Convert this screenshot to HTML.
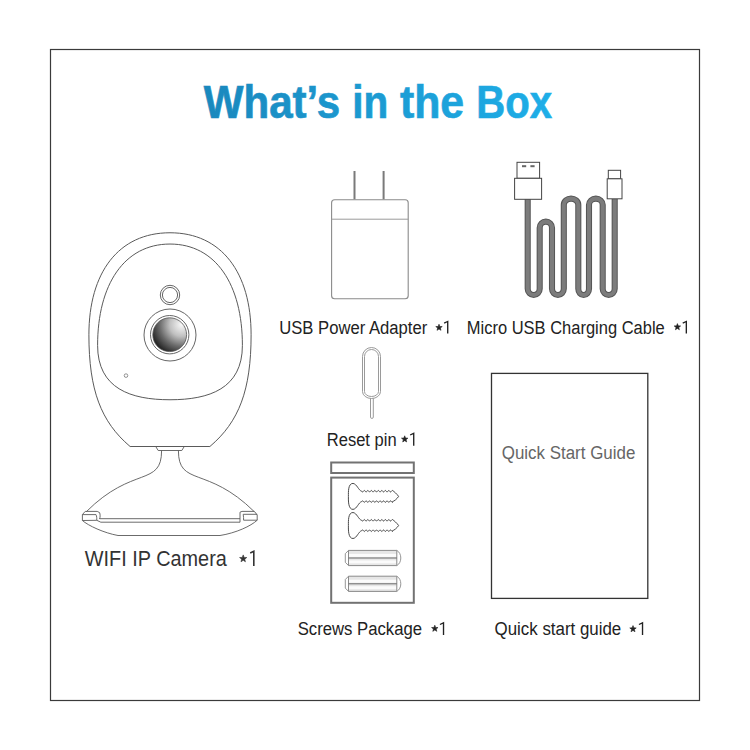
<!DOCTYPE html>
<html><head><meta charset="utf-8">
<style>
html,body{margin:0;padding:0;background:#fff;}
body{width:750px;height:750px;position:relative;overflow:hidden;font-family:"Liberation Sans",sans-serif;}
svg{position:absolute;left:0;top:0;}
</style></head><body>
<svg width="750" height="750" viewBox="0 0 750 750" font-family="Liberation Sans">
<defs>
<linearGradient id="tg" x1="204" y1="0" x2="552" y2="0" gradientUnits="userSpaceOnUse">
<stop offset="0" stop-color="#1a88bd"/><stop offset="1" stop-color="#1eaee8"/>
</linearGradient>
<radialGradient id="lens" cx="0.85" cy="0.2" r="1.0" fx="0.85" fy="0.2">
<stop offset="0" stop-color="#f8f8f8"/><stop offset="0.35" stop-color="#c0c0c0"/><stop offset="0.65" stop-color="#6a6a6a"/><stop offset="1" stop-color="#141414"/>
</radialGradient>
</defs>
<rect x="50.5" y="49.5" width="649" height="651" fill="none" stroke="#3a3a3a" stroke-width="1.2"/>
<path d="M130.1,446.5 C100.97,421.79 88.9,390.07 88.9,334.8 C88.9,272.51 118.57,232.76 170,232.76 C221.43,232.76 251.1,272.51 251.1,334.8 C251.1,390.07 239.03,421.79 209.9,446.5 Z" fill="none" stroke="#5a5a5a" stroke-width="1"/>
<path d="M170,244.04 C124.17,244.04 97.6,284.68 97.6,345.35 C97.6,388.65 130.81,399.75 170,399.75 C209.19,399.75 242.4,388.65 242.4,345.35 C242.4,284.68 215.83,244.04 170,244.04 Z" fill="none" stroke="#5a5a5a" stroke-width="1"/>
<path d="M155.6,446.3 L158.2,450.5 L181.8,450.5 L184.4,446.3 M161.6,450.5 C161.6,486.99 132.7,465.29 86.2,511.8 M178.4,450.5 C178.4,486.99 207.3,465.29 254.2,511.6 M82.4,514.6 L85.2,511.4 L97.2,511.4 L99.6,512.6 C100.3,514.5 100.3,517 99.6,519 M82.4,514.6 L96,514.6 C96.8,516 96.8,518.5 96.8,520.3 M82.4,514.6 L82.4,520.5 L96.8,520.3 L100.8,522.2 M99.6,518.7 L240,518.7 M100.8,522.2 L240,522.2 M240,522.2 L240,512.2 L242,511.4 L254.4,511.4 L257.2,515 L257.2,520.2 L243.6,520.2 M243.2,514.3 L257.2,514.3 M243.2,514.3 C243.6,516.5 243.6,518.5 243.6,520.2 M82.4,520.5 C88,525.5 104,533 118,535.5 L220,535.5 C236,533 251,526 257.2,520.2" fill="none" stroke="#5a5a5a" stroke-width="0.9" stroke-linejoin="round"/>
<circle cx="170" cy="295" r="9.7" fill="none" stroke="#666" stroke-width="1"/>
<circle cx="170" cy="295" r="7.6" fill="none" stroke="#666" stroke-width="1"/>
<circle cx="170" cy="335" r="26" fill="none" stroke="#666" stroke-width="1"/>
<circle cx="169.7" cy="334.7" r="19.2" fill="none" stroke="#666" stroke-width="1"/>
<circle cx="169.7" cy="334.7" r="16.9" fill="url(#lens)" stroke="#555" stroke-width="0.8"/>
<circle cx="126" cy="375.6" r="1.8" fill="none" stroke="#777" stroke-width="0.8"/>
<path d="M354.5,171 L354.5,199.5 M383.6,171 L383.6,199.5" stroke="#7a7a7a" stroke-width="2"/>
<rect x="331.6" y="199.8" width="76.6" height="99" rx="3" fill="#fff" stroke="#8a8a8a" stroke-width="1.1"/>
<path d="M331.6,219.2 L408.2,219.2" stroke="#9a9a9a" stroke-width="1"/>
<path d="M527.7,199 L527.7,288.8 A6.0,6.2 0 0 0 539.7,288.8 L539.7,227.79999999999998 A6.149999999999977,6.2 0 0 1 552.0,227.79999999999998 L552.0,288.8 A5.899999999999977,6.2 0 0 0 563.8,288.8 L563.8,204.79999999999998 A7.25,6.2 0 0 1 578.3,204.79999999999998 L578.3,288.8 A5.350000000000023,6.2 0 0 0 589.0,288.8 L589.0,204.79999999999998 A6.850000000000023,6.2 0 0 1 602.7,204.79999999999998 L602.7,288.8 A6.0,6.2 0 0 0 614.7,288.8 L614.7,199" fill="none" stroke="#555" stroke-width="6.1"/>
<path d="M527.7,199 L527.7,288.8 A6.0,6.2 0 0 0 539.7,288.8 L539.7,227.79999999999998 A6.149999999999977,6.2 0 0 1 552.0,227.79999999999998 L552.0,288.8 A5.899999999999977,6.2 0 0 0 563.8,288.8 L563.8,204.79999999999998 A7.25,6.2 0 0 1 578.3,204.79999999999998 L578.3,288.8 A5.350000000000023,6.2 0 0 0 589.0,288.8 L589.0,204.79999999999998 A6.850000000000023,6.2 0 0 1 602.7,204.79999999999998 L602.7,288.8 A6.0,6.2 0 0 0 614.7,288.8 L614.7,199" fill="none" stroke="#7c7c7c" stroke-width="4.1"/>
<rect x="517" y="162.3" width="22.6" height="16" fill="#fff" stroke="#444" stroke-width="1"/>
<rect x="522" y="165.2" width="4.2" height="2" fill="#666"/>
<rect x="530.4" y="165.2" width="4.2" height="2" fill="#666"/>
<rect x="514.6" y="178.3" width="27" height="21" fill="#fff" stroke="#444" stroke-width="1"/>
<rect x="608.3" y="170.3" width="12.3" height="8.5" fill="#fff" stroke="#444" stroke-width="1"/>
<rect x="607.2" y="178.8" width="14.8" height="20" fill="#fff" stroke="#444" stroke-width="1"/>
<path d="M362.5,356.5 A9,9 0 0 1 380.5,356.5 L380.5,391.5 A9,7 0 0 1 362.5,391.5 Z" fill="none" stroke="#8e8e8e" stroke-width="0.9"/>
<path d="M364.5,356.5 A7,7 0 0 1 378.5,356.5 L378.5,391.5 A7,5 0 0 1 364.5,391.5 Z" fill="none" stroke="#8e8e8e" stroke-width="0.9"/>
<path d="M370.5,398.4 L370.5,417.2 Q370.5,418.4 371.9,418.4 Q373.3,418.4 373.3,417.2 L373.3,398.4" fill="none" stroke="#8e8e8e" stroke-width="0.9"/>
<rect x="331.2" y="462.5" width="82.6" height="10.5" fill="none" stroke="#727272" stroke-width="2"/>
<rect x="331.2" y="477.6" width="82.6" height="125.2" fill="none" stroke="#727272" stroke-width="2"/>
<path d="M353,483.4 C357,484 358.5,490.5 361.7,491.2 L361.70,491.20 L362.20,491.83 L362.71,491.98 L363.21,491.53 L363.72,490.83 L364.22,490.41 L364.73,490.60 L365.23,491.25 L365.74,491.86 L366.24,491.96 L366.75,491.48 L367.25,490.78 L367.76,490.41 L368.26,490.64 L368.77,491.30 L369.27,491.89 L369.78,491.95 L370.28,491.44 L370.79,490.74 L371.29,490.40 L371.80,490.67 L372.30,491.35 L372.81,491.91 L373.31,491.93 L373.82,491.39 L374.32,490.70 L374.83,490.40 L375.33,490.71 L375.84,491.40 L376.34,491.93 L376.85,491.91 L377.35,491.34 L377.86,490.67 L378.36,490.40 L378.87,490.75 L379.37,491.44 L379.88,491.95 L380.38,491.88 L380.89,491.29 L381.39,490.63 L381.90,490.41 L382.40,490.79 L382.91,491.49 L383.41,491.97 L383.92,491.85 L384.42,491.24 L384.93,490.60 L385.43,490.41 L385.94,490.83 L386.44,491.54 L386.95,491.98 L387.45,491.82 L387.96,491.19 L388.46,490.57 L388.97,490.43 L389.47,490.88 L389.98,491.58 L390.48,491.99 L390.99,491.79 L391.49,491.14 L392.00,490.54 L392.50,490.44 C394,491.5 397,494 398.6,496.4 C397,499 394,501.3 392.5,501.6 L392.50,502.36 L392.00,502.26 L391.49,501.66 L390.99,501.01 L390.48,500.81 L389.98,501.22 L389.47,501.92 L388.97,502.37 L388.46,502.23 L387.96,501.61 L387.45,500.98 L386.95,500.82 L386.44,501.26 L385.94,501.97 L385.43,502.39 L384.93,502.20 L384.42,501.56 L383.92,500.95 L383.41,500.83 L382.91,501.31 L382.40,502.01 L381.90,502.39 L381.39,502.17 L380.89,501.51 L380.38,500.92 L379.88,500.85 L379.37,501.36 L378.87,502.05 L378.36,502.40 L377.86,502.13 L377.35,501.46 L376.85,500.89 L376.34,500.87 L375.84,501.40 L375.33,502.09 L374.83,502.40 L374.32,502.10 L373.82,501.41 L373.31,500.87 L372.81,500.89 L372.30,501.45 L371.80,502.13 L371.29,502.40 L370.79,502.06 L370.28,501.36 L369.78,500.85 L369.27,500.91 L368.77,501.50 L368.26,502.16 L367.76,502.39 L367.25,502.02 L366.75,501.32 L366.24,500.84 L365.74,500.94 L365.23,501.55 L364.73,502.20 L364.22,502.39 L363.72,501.97 L363.21,501.27 L362.71,500.82 L362.20,500.97 L361.70,501.60 C358.5,502.3 357,509 353,509.4 C348,509.4 348.4,500 348.4,496.4 C348.4,492 348,483.4 353,483.4Z" fill="none" stroke="#4a4a4a" stroke-width="1"/>
<path d="M353,512.5 C357,513.1 358.5,519.6 361.7,520.3 L361.70,520.30 L362.20,520.93 L362.71,521.08 L363.21,520.63 L363.72,519.93 L364.22,519.51 L364.73,519.70 L365.23,520.35 L365.74,520.96 L366.24,521.06 L366.75,520.58 L367.25,519.88 L367.76,519.51 L368.26,519.74 L368.77,520.40 L369.27,520.99 L369.78,521.05 L370.28,520.54 L370.79,519.84 L371.29,519.50 L371.80,519.77 L372.30,520.45 L372.81,521.01 L373.31,521.03 L373.82,520.49 L374.32,519.80 L374.83,519.50 L375.33,519.81 L375.84,520.50 L376.34,521.03 L376.85,521.01 L377.35,520.44 L377.86,519.77 L378.36,519.50 L378.87,519.85 L379.37,520.54 L379.88,521.05 L380.38,520.98 L380.89,520.39 L381.39,519.73 L381.90,519.51 L382.40,519.89 L382.91,520.59 L383.41,521.07 L383.92,520.95 L384.42,520.34 L384.93,519.70 L385.43,519.51 L385.94,519.93 L386.44,520.64 L386.95,521.08 L387.45,520.92 L387.96,520.29 L388.46,519.67 L388.97,519.53 L389.47,519.98 L389.98,520.68 L390.48,521.09 L390.99,520.89 L391.49,520.24 L392.00,519.64 L392.50,519.54 C394,520.6 397,523.1 398.6,525.5 C397,528.1 394,530.4 392.5,530.7 L392.50,531.46 L392.00,531.36 L391.49,530.76 L390.99,530.11 L390.48,529.91 L389.98,530.32 L389.47,531.02 L388.97,531.47 L388.46,531.33 L387.96,530.71 L387.45,530.08 L386.95,529.92 L386.44,530.36 L385.94,531.07 L385.43,531.49 L384.93,531.30 L384.42,530.66 L383.92,530.05 L383.41,529.93 L382.91,530.41 L382.40,531.11 L381.90,531.49 L381.39,531.27 L380.89,530.61 L380.38,530.02 L379.88,529.95 L379.37,530.46 L378.87,531.15 L378.36,531.50 L377.86,531.23 L377.35,530.56 L376.85,529.99 L376.34,529.97 L375.84,530.50 L375.33,531.19 L374.83,531.50 L374.32,531.20 L373.82,530.51 L373.31,529.97 L372.81,529.99 L372.30,530.55 L371.80,531.23 L371.29,531.50 L370.79,531.16 L370.28,530.46 L369.78,529.95 L369.27,530.01 L368.77,530.60 L368.26,531.26 L367.76,531.49 L367.25,531.12 L366.75,530.42 L366.24,529.94 L365.74,530.04 L365.23,530.65 L364.73,531.30 L364.22,531.49 L363.72,531.07 L363.21,530.37 L362.71,529.92 L362.20,530.07 L361.70,530.70 C358.5,531.4 357,538.1 353,538.5 C348,538.5 348.4,529.1 348.4,525.5 C348.4,521.1 348,512.5 353,512.5Z" fill="none" stroke="#4a4a4a" stroke-width="1"/>
<g><rect x="348.5" y="550.4" width="48.3" height="15.2" fill="#e6e6e6"/><rect x="348.5" y="553.9" width="48.3" height="3" fill="#fbfbfb"/><rect x="348.5" y="560.4" width="48.3" height="3" fill="#fbfbfb"/><path d="M348.5,550.4 L396.8,550.4 M348.5,565.6 L396.8,565.6 M348.5,550.4 L348.5,565.6 M396.8,550.4 L396.8,565.6" stroke="#8a8a8a" stroke-width="1" fill="none"/><path d="M348.5,558.0 L396.8,558.0" stroke="#6a6a6a" stroke-width="1"/><path d="M348.5,550.4 L345.3,553.6999999999999 L345.3,562.3000000000001 L348.5,565.6" stroke="#8a8a8a" stroke-width="0.9" fill="none"/><path d="M396.8,550.4 C399.5,551.9 400.8,554.9 400.8,558.0 C400.8,561.1 399.5,564.1 396.8,565.6" stroke="#8a8a8a" stroke-width="0.9" fill="none"/></g>
<g><rect x="348.5" y="576.2" width="48.3" height="15.2" fill="#e6e6e6"/><rect x="348.5" y="579.7" width="48.3" height="3" fill="#fbfbfb"/><rect x="348.5" y="586.2" width="48.3" height="3" fill="#fbfbfb"/><path d="M348.5,576.2 L396.8,576.2 M348.5,591.4000000000001 L396.8,591.4000000000001 M348.5,576.2 L348.5,591.4000000000001 M396.8,576.2 L396.8,591.4000000000001" stroke="#8a8a8a" stroke-width="1" fill="none"/><path d="M348.5,583.8000000000001 L396.8,583.8000000000001" stroke="#6a6a6a" stroke-width="1"/><path d="M348.5,576.2 L345.3,579.5 L345.3,588.1000000000001 L348.5,591.4000000000001" stroke="#8a8a8a" stroke-width="0.9" fill="none"/><path d="M396.8,576.2 C399.5,577.7 400.8,580.7 400.8,583.8000000000001 C400.8,586.9000000000001 399.5,589.9000000000001 396.8,591.4000000000001" stroke="#8a8a8a" stroke-width="0.9" fill="none"/></g>
<rect x="491.5" y="373.4" width="156.3" height="225" fill="none" stroke="#333" stroke-width="1.3"/>
<text x="476.2" y="118" font-size="46.5" fill="url(#tg)" textLength="75.8" lengthAdjust="spacingAndGlyphs" font-weight="bold" stroke="url(#tg)" stroke-width="0.7">Box</text>
<text x="399.9" y="118" font-size="46.5" fill="url(#tg)" textLength="64.2" lengthAdjust="spacingAndGlyphs" font-weight="bold" stroke="url(#tg)" stroke-width="0.7">the</text>
<text x="352.2" y="118" font-size="46.5" fill="url(#tg)" textLength="36" lengthAdjust="spacingAndGlyphs" font-weight="bold" stroke="url(#tg)" stroke-width="0.7">in</text>
<text x="203.7" y="118" font-size="46.5" fill="url(#tg)" textLength="136.5" lengthAdjust="spacingAndGlyphs" font-weight="bold" stroke="url(#tg)" stroke-width="0.7">What’s</text>
<text x="279.2" y="333.6" font-size="18" fill="#222" textLength="148" lengthAdjust="spacingAndGlyphs">USB Power Adapter</text>
<text x="466.8" y="333.6" font-size="18" fill="#222" textLength="198" lengthAdjust="spacingAndGlyphs">Micro USB Charging Cable</text>
<text x="326.8" y="445.7" font-size="18" fill="#222" textLength="69.8" lengthAdjust="spacingAndGlyphs">Reset pin</text>
<text x="84.8" y="566" font-size="21.8" fill="#333" textLength="142" lengthAdjust="spacingAndGlyphs">WIFI IP Camera</text>
<text x="297.7" y="635" font-size="18" fill="#222" textLength="124.4" lengthAdjust="spacingAndGlyphs">Screws Package</text>
<text x="494.6" y="635" font-size="18" fill="#222" textLength="126.6" lengthAdjust="spacingAndGlyphs">Quick start guide</text>
<text x="501.8" y="458.9" font-size="18" fill="#666" textLength="133.5" lengthAdjust="spacingAndGlyphs">Quick Start Guide</text>
<path d="M447.72,333.60 L447.72,321.50 L444.12,323.10" fill="none" stroke="#222" stroke-width="1.35" stroke-linejoin="miter"/>
<path d="M686.33,333.60 L686.33,321.50 L682.73,323.10" fill="none" stroke="#222" stroke-width="1.35" stroke-linejoin="miter"/>
<path d="M413.72,445.70 L413.72,433.40 L410.12,435.00" fill="none" stroke="#222" stroke-width="1.35" stroke-linejoin="miter"/>
<path d="M253.80,566.00 L253.80,551.30 L250.20,552.90" fill="none" stroke="#333" stroke-width="1.6" stroke-linejoin="miter"/>
<path d="M443.52,635.00 L443.52,622.90 L439.92,624.50" fill="none" stroke="#222" stroke-width="1.35" stroke-linejoin="miter"/>
<path d="M642.53,635.00 L642.53,622.90 L638.93,624.50" fill="none" stroke="#222" stroke-width="1.35" stroke-linejoin="miter"/>
<path d="M439.00,324.20 L439.84,326.44 L442.23,326.55 L440.36,328.04 L441.00,330.35 L439.00,329.03 L437.00,330.35 L437.64,328.04 L435.77,326.55 L438.16,326.44Z" fill="#222" stroke="#222" stroke-width="0.6" stroke-linejoin="round"/>
<path d="M677.40,323.60 L678.24,325.84 L680.63,325.95 L678.76,327.44 L679.40,329.75 L677.40,328.43 L675.40,329.75 L676.04,327.44 L674.17,325.95 L676.56,325.84Z" fill="#222" stroke="#222" stroke-width="0.6" stroke-linejoin="round"/>
<path d="M404.70,435.80 L405.54,438.04 L407.93,438.15 L406.06,439.64 L406.70,441.95 L404.70,440.63 L402.70,441.95 L403.34,439.64 L401.47,438.15 L403.86,438.04Z" fill="#222" stroke="#222" stroke-width="0.6" stroke-linejoin="round"/>
<path d="M243.20,554.90 L244.14,557.41 L246.81,557.53 L244.72,559.19 L245.43,561.77 L243.20,560.30 L240.97,561.77 L241.68,559.19 L239.59,557.53 L242.26,557.41Z" fill="#333" stroke="#333" stroke-width="0.6" stroke-linejoin="round"/>
<path d="M434.80,625.20 L435.64,627.44 L438.03,627.55 L436.16,629.04 L436.80,631.35 L434.80,630.03 L432.80,631.35 L433.44,629.04 L431.57,627.55 L433.96,627.44Z" fill="#222" stroke="#222" stroke-width="0.6" stroke-linejoin="round"/>
<path d="M633.00,625.60 L633.84,627.84 L636.23,627.95 L634.36,629.44 L635.00,631.75 L633.00,630.43 L631.00,631.75 L631.64,629.44 L629.77,627.95 L632.16,627.84Z" fill="#222" stroke="#222" stroke-width="0.6" stroke-linejoin="round"/>
</svg>
</body></html>
